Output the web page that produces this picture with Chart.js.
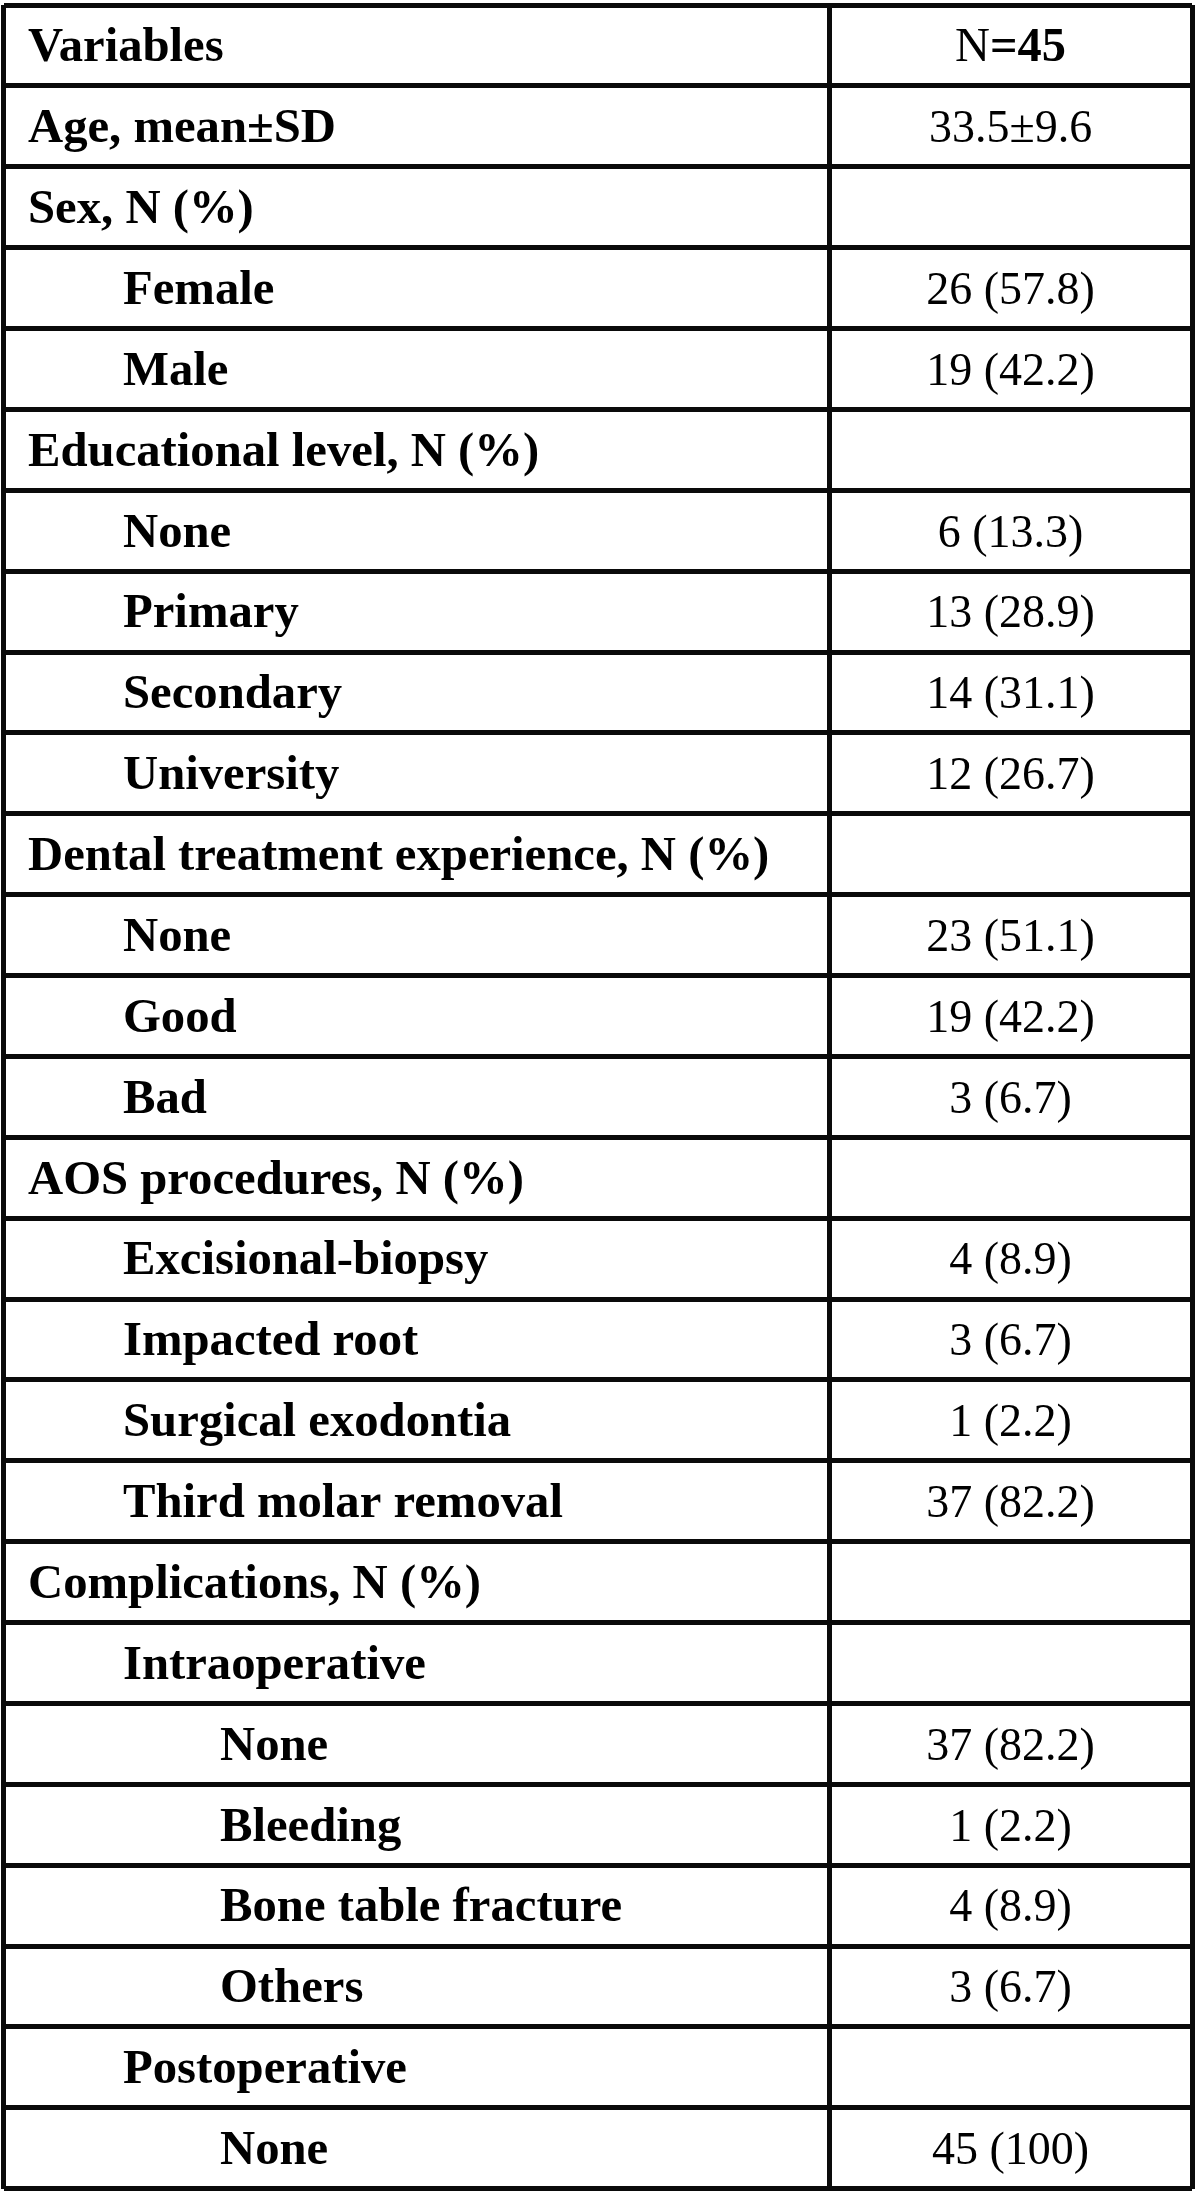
<!DOCTYPE html>
<html>
<head>
<meta charset="utf-8">
<script src="https://cdn.jsdelivr.net/npm/chart.js@4.4.1/dist/chart.umd.min.js"></script>
<style>
  html, body { margin: 0; padding: 0; background: #ffffff; }
  #wrap { width: 1200px; height: 2192px; position: relative; }
</style>
</head>
<body>
<div id="wrap"><canvas id="c"></canvas></div>
<script>
const headerLabel = "Variables";
const totalN = 45;
const variables = [
  "Age, mean\u00B1SD", "Sex, N (%)", "Female", "Male",
  "Educational level, N (%)", "None", "Primary", "Secondary", "University",
  "Dental treatment experience, N (%)", "None", "Good", "Bad",
  "AOS procedures, N (%)", "Excisional-biopsy", "Impacted root", "Surgical exodontia", "Third molar removal",
  "Complications, N (%)", "Intraoperative", "None", "Bleeding", "Bone table fracture", "Others",
  "Postoperative", "None"
];
const levels = [0, 0, 1, 1, 0, 1, 1, 1, 1, 0, 1, 1, 1, 0, 1, 1, 1, 1, 0, 1, 2, 2, 2, 2, 1, 2];
const counts = [null, null, 26, 19, null, 6, 13, 14, 12, null, 23, 19, 3, null, 4, 3, 1, 37, null, null, 37, 1, 4, 3, null, 45];
const percents = [null, null, 57.8, 42.2, null, 13.3, 28.9, 31.1, 26.7, null, 51.1, 42.2, 6.7, null, 8.9, 6.7, 2.2, 82.2, null, null, 82.2, 2.2, 8.9, 6.7, null, 100];
const ageMean = 33.5;
const ageSD = 9.6;

// ---- styling constants ----
const LINE_COLOR = '#0a0a0a';
const LINE_W = 5;
const SPLIT = 0.6946;              // column divider as a fraction of the table width
const INDENT = [24.5, 119.5, 216.5];
const LABEL_FONT = 'bold 48.7px "Liberation Serif", "Times New Roman", serif';
const VALUE_FONT = '46px "Liberation Serif", "Times New Roman", serif';
const HEAD_REG = '48.4px "Liberation Serif", "Times New Roman", serif';
const HEAD_BOLD = 'bold 48.4px "Liberation Serif", "Times New Roman", serif';

const rowLabels = [headerLabel].concat(variables);
const rowLevels = [0].concat(levels);
const rowValues = ["", ageMean.toFixed(1) + "\u00B1" + ageSD.toFixed(1)].concat(
  counts.slice(1).map((c, i) => c === null ? "" : c + " (" + percents[i + 1] + ")")
);

const textPlugin = {
  id: 'tableText',
  afterDraw(chart) {
    const ctx = chart.ctx;
    const xs = chart.scales.x, ys = chart.scales.y;
    const left = xs.getPixelForValue(0);
    const valCenter = xs.getPixelForValue((SPLIT + 1) / 2);
    ctx.save();
    ctx.fillStyle = '#000';
    ctx.textBaseline = 'alphabetic';
    for (let i = 0; i < rowLabels.length; i++) {
      const cy = ys.getPixelForValue(i);
      ctx.font = LABEL_FONT;
      ctx.textAlign = 'left';
      ctx.fillText(rowLabels[i], left + INDENT[rowLevels[i]], cy + 15.8);
      if (i === 0) {
        // header: "N" regular, "=45" bold
        ctx.font = HEAD_REG;
        const w1 = ctx.measureText("N").width;
        ctx.font = HEAD_BOLD;
        const s2 = "=" + totalN;
        const w2 = ctx.measureText(s2).width;
        const x0 = valCenter - (w1 + w2) / 2;
        ctx.textAlign = 'left';
        ctx.font = HEAD_REG;
        ctx.fillText("N", x0, cy + 15.8);
        ctx.font = HEAD_BOLD;
        ctx.fillText(s2, x0 + w1, cy + 15.8);
      } else if (rowValues[i]) {
        ctx.font = VALUE_FONT;
        ctx.textAlign = 'center';
        ctx.fillText(rowValues[i], valCenter, cy + 15.8);
      }
    }
    ctx.restore();
  }
};

new Chart(document.getElementById('c'), {
  type: 'bar',
  data: { labels: rowLabels, datasets: [] },
  options: {
    responsive: true,
    maintainAspectRatio: false,
    animation: false,
    indexAxis: 'y',
    layout: { padding: { left: 3.5, right: 8, top: 5, bottom: 3.3 } },
    plugins: { legend: { display: false }, tooltip: { enabled: false } },
    scales: {
      x: {
        type: 'linear', min: 0, max: 1, position: 'bottom',
        afterBuildTicks: (s) => { s.ticks = [0, SPLIT, 1].map(v => ({ value: v })); },
        afterFit: (s) => { s.height = 0; },
        ticks: { display: false },
        grid: { color: LINE_COLOR, lineWidth: LINE_W, drawTicks: false },
        border: { display: false }
      },
      y: {
        type: 'category', offset: true,
        afterFit: (s) => { s.width = 0; },
        ticks: { display: false },
        grid: { offset: true, color: LINE_COLOR, lineWidth: LINE_W, drawTicks: false },
        border: { display: false }
      }
    }
  },
  plugins: [textPlugin]
});
</script>
</body>
</html>
